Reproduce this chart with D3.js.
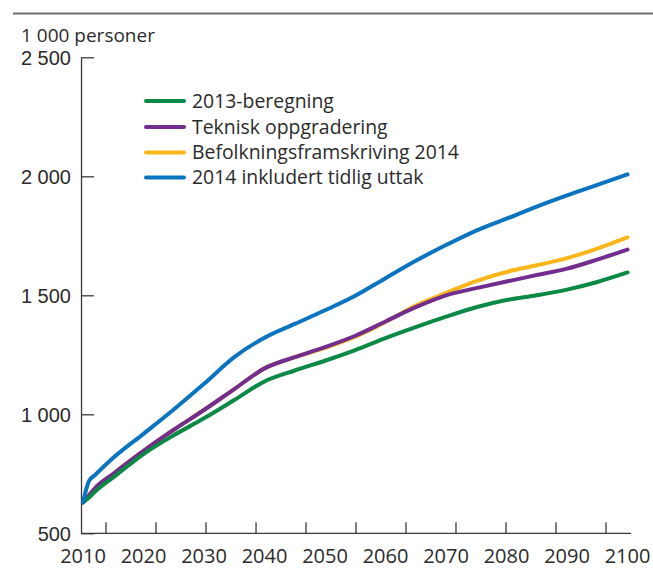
<!DOCTYPE html>
<html>
<head>
<meta charset="utf-8">
<script src="https://cdn.jsdelivr.net/npm/d3@7"></script>
<style>
  html, body { margin: 0; padding: 0; background: #fff; }
  svg { display: block; font-family: "Open Sans", "Noto Sans", sans-serif; }
</style>
</head>
<body>
<svg id="chart" width="653" height="571"></svg>
<script>
// ---- data ----
const years = [2010, 2011, 2012, 2015, 2020, 2025, 2030, 2035, 2040, 2045, 2050, 2055, 2060, 2065, 2070, 2075, 2080, 2085, 2090, 2095, 2100];
const beregning2013 = [630, 650, 675, 735, 833, 912, 983, 1060, 1138, 1184, 1225, 1270, 1320, 1366, 1410, 1450, 1480, 1500, 1524, 1556, 1596];
const tekniskOppgradering = [630, 660, 690, 750, 846, 935, 1018, 1106, 1193, 1240, 1282, 1330, 1390, 1450, 1500, 1530, 1558, 1585, 1612, 1650, 1692];
const befolkningsframskriving2014 = [630, 660, 690, 750, 846, 935, 1018, 1106, 1193, 1240, 1279, 1326, 1388, 1457, 1510, 1560, 1598, 1626, 1656, 1696, 1743];
const inkludertTidligUttak = [630, 720, 745, 817, 918, 1020, 1128, 1240, 1322, 1380, 1437, 1498, 1572, 1645, 1711, 1772, 1822, 1873, 1920, 1964, 2008];

const seriesNames = ["2013-beregning", "Teknisk oppgradering", "Befolkningsframskriving 2014", "2014 inkludert tidlig uttak"];
const seriesColors = ["#0a8a45", "#722d8e", "#fbb71a", "#0a74c1"];
const xLabelYears = [2010, 2020, 2030, 2040, 2050, 2060, 2070, 2080, 2090, 2100];
const xTickYears = [2013.8, 2022.07, 2030.33, 2038.6, 2046.86, 2055.12, 2063.39, 2071.65, 2079.92, 2088.18, 2096.45];
const yTicks = [500, 1000, 1500, 2000, 2500];
const unitLabel = "1 000 personer";

// ---- chart ----
const svg = d3.select("#chart");
const x = d3.scaleLinear().domain([2010, 2100]).range([83, 627.5]);
const y = d3.scaleLinear().domain([500, 2500]).range([533.3, 57.3]);
const fmt = d3.formatLocale({ decimal: ",", thousands: " ", grouping: [3], currency: ["", ""] }).format(",d");
const textColor = "#2b2b2b";
const axisColor = "#3a3a3a";
const fsTick = 20;
const fsLegend = 19.4;

// top rule
svg.append("line").attr("x1", 13).attr("x2", 653).attr("y1", 13.5).attr("y2", 13.5)
  .attr("stroke", "#6e6e6e").attr("stroke-width", 2);

// unit label
svg.append("text").attr("x", 21).attr("y", 42).attr("font-size", 19).attr("fill", textColor).text(unitLabel);

// y axis
const yAxis = svg.append("g").attr("transform", "translate(81,0)")
  .call(d3.axisLeft(y).tickValues(yTicks).tickSize(-13).tickSizeOuter(0).tickPadding(10).tickFormat(fmt));
yAxis.select(".domain").attr("stroke", axisColor).attr("stroke-width", 1.3);
yAxis.selectAll(".tick line").attr("stroke", axisColor).attr("stroke-width", 1.3);
yAxis.selectAll(".tick text").attr("font-size", fsTick).attr("fill", textColor).attr("font-family", null)
  .attr("x", -10).attr("dy", "0.36em");

// x axis line
const axisY = y(500);
svg.append("line").attr("x1", 81).attr("x2", x(2100) + 3.5).attr("y1", axisY).attr("y2", axisY)
  .attr("stroke", axisColor).attr("stroke-width", 1.3);
// x ticks (separate from labels, as in the reference)
svg.append("g").attr("transform", `translate(0,${axisY})`)
  .selectAll("line").data(xTickYears).join("line")
  .attr("x1", d => x(d)).attr("x2", d => x(d)).attr("y1", 0).attr("y2", -11)
  .attr("stroke", axisColor).attr("stroke-width", 1.3);
// x labels
svg.append("g").selectAll("text").data(xLabelYears).join("text")
  .attr("x", d => x(d)).attr("y", 563).attr("text-anchor", "middle")
  .attr("font-size", fsTick).attr("fill", textColor).text(d => d);

// lines
const allSeries = [beregning2013, tekniskOppgradering, befolkningsframskriving2014, inkludertTidligUttak];
const line = d3.line().x((d, i) => x(years[i])).y(d => y(d)).curve(d3.curveMonotoneX);
const drawOrder = [2, 1, 0, 3];
svg.append("g").selectAll("path").data(drawOrder).join("path")
  .attr("d", i => line(allSeries[i]))
  .attr("fill", "none").attr("stroke", i => seriesColors[i]).attr("stroke-width", 4)
  .attr("stroke-linecap", "round").attr("stroke-linejoin", "round");

// legend
const legendY = [101, 127, 152.5, 177.5];
const lg = svg.append("g").selectAll("g").data(seriesNames).join("g")
  .attr("transform", (d, i) => `translate(146,${legendY[i]})`);
lg.append("line").attr("x1", 0).attr("x2", 38).attr("stroke", (d, i) => seriesColors[i])
  .attr("stroke-width", 4).attr("stroke-linecap", "round");
lg.append("text").attr("x", 46).attr("dy", "0.36em").attr("font-size", fsLegend).attr("fill", textColor).text(d => d);
</script>
</body>
</html>
